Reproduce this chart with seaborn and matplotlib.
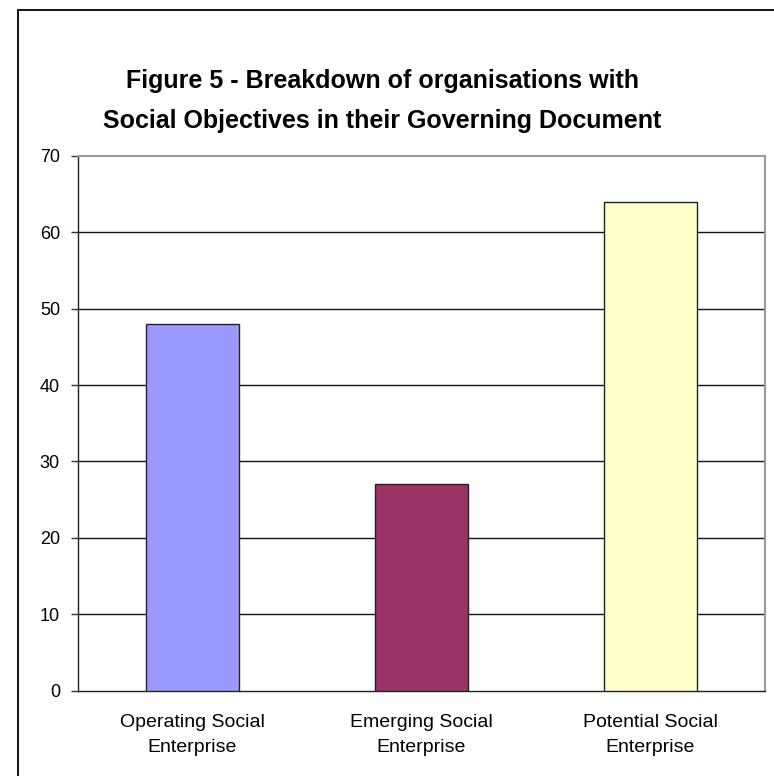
import matplotlib
matplotlib.use("Agg")
import matplotlib.pyplot as plt
from matplotlib.patches import Rectangle
import seaborn as sns
import pandas as pd

categories = ["Operating Social\nEnterprise", "Emerging Social\nEnterprise", "Potential Social\nEnterprise"]
counts = [48, 27, 64]
bar_colors = ["#9999FF", "#993366", "#FFFFCC"]
y_ticks = [0, 10, 20, 30, 40, 50, 60, 70]
title = "Figure 5 - Breakdown of organisations with\nSocial Objectives in their Governing Document"

sns.set_theme(style="white")
plt.rcParams["font.family"] = ["Liberation Sans", "DejaVu Sans"]

df = pd.DataFrame({"category": categories, "count": counts})

fig = plt.figure(figsize=(7.74, 7.76), dpi=100)
fig.patch.set_facecolor("white")

# outer chart frame (runs off the right and bottom edges)
frame_top = 1 - 10 / 776
fig.patches.append(Rectangle((18 / 774, -0.2), 1.2, frame_top + 0.2,
                             transform=fig.transFigure, fill=False,
                             edgecolor="black", linewidth=1.3, zorder=0))

ax = fig.add_axes([78 / 774, 1 - 690.5 / 776, (765 - 78) / 774, (690.5 - 156) / 776])
sns.barplot(data=df, x="category", y="count", hue="category", palette=bar_colors,
            legend=False, width=0.407, edgecolor="#222222", linewidth=1.0,
            saturation=1, ax=ax, zorder=3)

ax.set_xlim(-0.5, 2.5)
ax.set_ylim(0, 70)
ax.set_yticks(y_ticks)
ax.set_xlabel("")
ax.set_ylabel("")

# horizontal gridlines
for v in y_ticks[1:-1]:
    ax.axhline(v, color="#111111", linewidth=1.0, zorder=1)

# category labels centred under the bars; separator ticks between categories
ax.set_xticks(range(len(categories)))
ax.set_xticklabels(categories, fontsize=14, linespacing=1.6, color="black")
ax.tick_params(axis="x", which="major", length=0, pad=17)
ax.set_xticks([-0.5, 0.5, 1.5, 2.5], minor=True)
ax.tick_params(axis="x", which="minor", length=5, width=1, color="#333333", direction="out")
ax.tick_params(axis="y", length=5, width=1, color="#333333", direction="out",
               labelsize=13, pad=8, left=True, labelcolor="black")

for side in ["left", "bottom"]:
    ax.spines[side].set_color("#222222")
    ax.spines[side].set_linewidth(1.0)
for side in ["top", "right"]:
    ax.spines[side].set_color("#999999")
    ax.spines[side].set_linewidth(1.5)
ax.set_facecolor("white")

fig.text(382 / 774, 1 - 101 / 776, title, ha="center", va="center",
         fontsize=18, fontweight="bold", linespacing=1.8, color="black")

fig.savefig("out.png", dpi=100, facecolor="white")
